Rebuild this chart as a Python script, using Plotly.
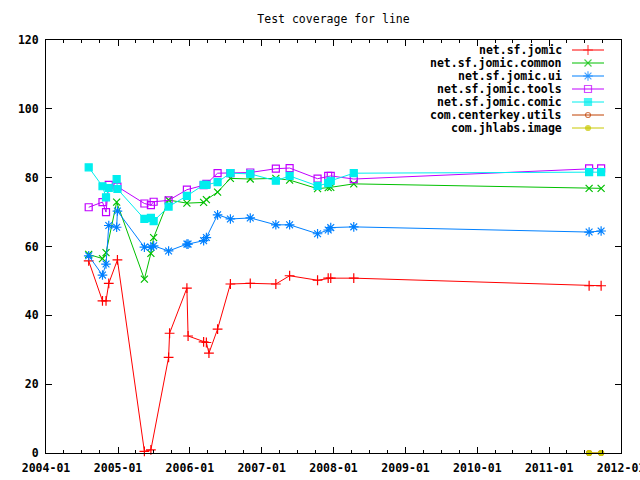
import plotly.graph_objects as go

# ---------------- data ----------------
dates = ["2004-08-05", "2004-10-14", "2004-11-01", "2004-11-15", "2004-12-25",
         "2004-12-29", "2005-05-15", "2005-06-17", "2005-07-01", "2005-09-15",
         "2005-09-20", "2005-12-17", "2005-12-23", "2006-03-12", "2006-03-26",
         "2006-04-08", "2006-05-22", "2006-07-26", "2006-11-04", "2007-03-14",
         "2007-05-23", "2007-10-12", "2007-12-05", "2007-12-18", "2008-04-13",
         "2011-07-23", "2011-09-22"]

jomic = [55.8, 44.2, 44.2, 49.3, None, 56.1, 0.5, 0.9, None, 27.8,
         34.8, 47.9, 34.0, 32.3, 32.1, 29.0, 36.0, 49.1, 49.3, 49.1,
         51.5, 50.2, 50.8, 50.8, 50.8, 48.6, 48.6]
jomic_common = [57.7, 56.5, 58.2, None, 72.9, None, 50.5, 58.0, 62.6, 73.5,
                None, 72.6, None, 72.8, 73.6, None, 75.8, 79.8, 79.6, 79.8,
                79.3, 76.8, 77.1, 77.2, 78.2, 76.9, 76.9]
jomic_ui = [57.3, 51.7, 54.9, 66.1, 65.6, 70.3, 59.8, 59.8, 60.2, 58.7,
            None, 60.7, 60.7, 61.7, 62.6, None, 69.2, 68.0, 68.3, 66.3,
            66.3, 63.7, 64.8, 65.5, 65.7, 64.2, 64.5]
jomic_tools = [71.4, 72.9, 70.0, 77.9, None, 77.4, 72.5, 72.0, 73.0, 73.4,
               None, 76.5, None, 77.8, 78.2, None, 81.3, 81.3, 81.5, 82.6,
               82.8, 79.7, 80.5, 80.5, 79.6, 82.7, 82.7]
jomic_comic = [83.0, 77.5, 74.3, 77.0, 79.6, 76.7, 68.0, 68.3, 67.4, 71.6,
               None, 74.7, None, 77.9, 77.9, None, 78.7, 81.3, 81.1, 79.1,
               80.5, 77.6, 78.4, 79.1, 81.3, 81.6, 81.6]
centerkey_utils = [None] * 25 + [0, 0]
jhlabs_image = [None] * 25 + [0, 0]

series_names = ["net.sf.jomic", "net.sf.jomic.common", "net.sf.jomic.ui",
                "net.sf.jomic.tools", "net.sf.jomic.comic",
                "com.centerkey.utils", "com.jhlabs.image"]
series_values = [jomic, jomic_common, jomic_ui, jomic_tools, jomic_comic,
                 centerkey_utils, jhlabs_image]

title_text = "Test coverage for line"

# ---------------- style ----------------
colors = ["#ff0000", "#00c000", "#0080ff", "#c000ff", "#00eeee", "#c04000", "#c8c800"]
symbols = ["cross-thin-open", "x-thin-open", "asterisk-open", "square-open",
           "square", "circle-open", "circle"]
msizes = [7, 7, 8, 7, 7, 5, 5]

W, H = 640, 480
ML, MR, MT, MB = 46, 19, 40, 27
PW, PH = W - ML - MR, H - MT - MB
FONT = "DejaVu Sans Mono"

fig = go.Figure()
for name, vals, c, s, ms in zip(series_names, series_values, colors, symbols, msizes):
    fig.add_trace(go.Scatter(
        x=dates, y=vals, name=name, mode="lines+markers", connectgaps=True,
        line=dict(color=c, width=1),
        marker=dict(symbol=s, size=ms, color=c, line=dict(color=c, width=1.2)),
        cliponaxis=False, showlegend=False))

# custom gnuplot-style key (text right, sample on the right)
key_text_right = 564
key_line = (572, 604)
key_y0, key_dy = 50, 13
annotations = []
for i, (name, c, s, ms) in enumerate(zip(series_names, colors, symbols, msizes)):
    ypx = key_y0 + key_dy * i
    yp = 1 - (ypx - MT) / PH
    annotations.append(dict(
        text=name, xref="paper", yref="paper",
        x=(key_text_right - ML) / PW, y=yp, xanchor="right", yanchor="middle",
        showarrow=False, font=dict(family=FONT, size=11.5, color="black", weight="bold")))
    xa = (key_line[0] - ML) / PW
    xb = (key_line[1] - ML) / PW
    fig.add_trace(go.Scatter(
        x=[xa, (xa + xb) / 2, xb], y=[yp] * 3, xaxis="x2", yaxis="y2",
        mode="lines+markers", line=dict(color=c, width=1),
        marker=dict(symbol=s, size=[0, ms, 0], color=c, line=dict(color=c, width=1.2)),
        showlegend=False, hoverinfo="skip"))

tickfont = dict(family=FONT, size=11.5, color="black", weight="bold")
fig.update_layout(
    width=W, height=H,
    margin=dict(l=ML, r=MR, t=MT, b=MB, autoexpand=False),
    paper_bgcolor="white", plot_bgcolor="white",
    showlegend=False,
    title=dict(text=title_text, x=(ML + PW / 2) / W, xanchor="center",
               y=1 - 19 / H, yanchor="middle", automargin=False,
               font=dict(family=FONT, size=11.5, color="black")),
    xaxis=dict(type="date", range=["2004-01-01", "2012-01-01"],
               tick0="2004-01-01", dtick="M12", tickformat="%Y-%m",
               ticks="inside", ticklen=6, tickcolor="black", tickwidth=1,
               showline=True, linecolor="black", linewidth=1, mirror="allticks",
               showgrid=False, zeroline=False, tickfont=tickfont,
               automargin=False, ticklabeloverflow="allow", ticklabelstandoff=4,
               minor=dict(dtick="M3", ticks="inside", ticklen=3,
                          tickcolor="black", showgrid=False)),
    yaxis=dict(range=[0, 120], dtick=20, tick0=0,
               ticks="inside", ticklen=6, tickcolor="black", tickwidth=1,
               showline=True, linecolor="black", linewidth=1, mirror="allticks",
               showgrid=False, zeroline=False, tickfont=tickfont,
               automargin=False, ticklabeloverflow="allow", ticklabelstandoff=4),
    xaxis2=dict(overlaying="x", range=[0, 1], visible=False, fixedrange=True),
    yaxis2=dict(overlaying="y", range=[0, 1], visible=False, fixedrange=True),
    annotations=annotations,
)

fig.write_html("out.html",
               config={"displayModeBar": False},
               post_script="document.body.style.margin='0';"
                           "document.documentElement.style.overflow='hidden';")
